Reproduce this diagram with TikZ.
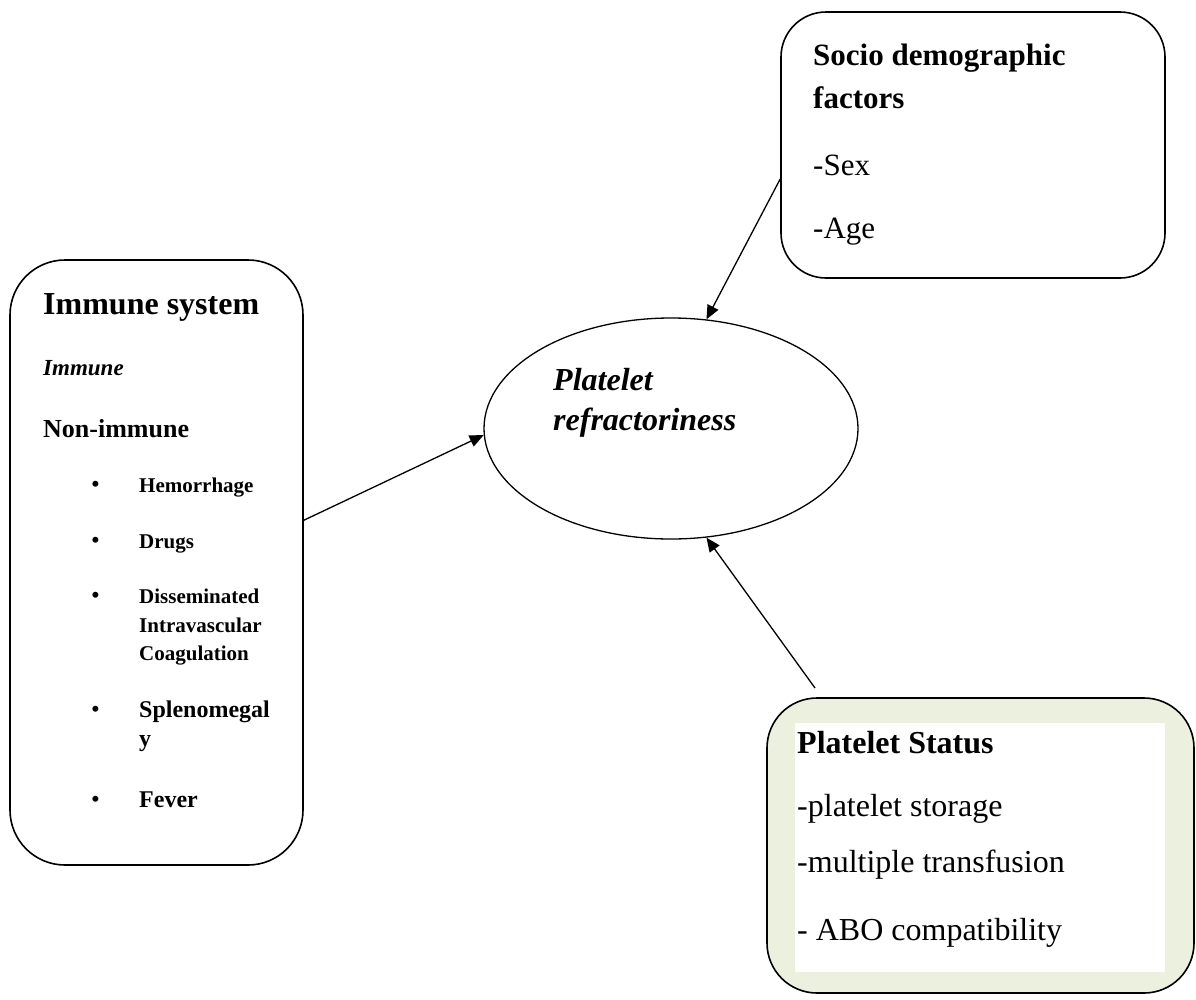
\documentclass[tikz,border=0pt]{standalone}
\usepackage{fontspec}
\setmainfont{Liberation Serif}
\usepackage{tikz}
\usetikzlibrary{arrows.meta, shapes.geometric}

\definecolor{statusgreen}{RGB}{235,241,222}

\tikzset{
    box/.style={draw, line width=1.6pt, inner sep=0pt},
    txt/.style={anchor=base west, inner sep=0pt},
    headfont/.style={font=\fontsize{32}{38}\selectfont\bfseries},
    itemfont/.style={font=\fontsize{21}{26}\selectfont\bfseries},
    bigitemfont/.style={font=\fontsize{24}{29}\selectfont\bfseries},
    plainfont/.style={font=\fontsize{31}{37}\selectfont},
    bul/.style={txt, font=\fontsize{25}{30}\selectfont},
    link/.style={-{Triangle[length=14pt, width=12pt]}, line width=1.3pt}
}

\begin{document}
\begin{tikzpicture}[x=1pt, y=-1pt]
    \useasboundingbox (0,0) rectangle (1196,999);

    % Boxes and ellipse
    \node[box, rounded corners=55pt, minimum width=293pt, minimum height=605pt] (immune) at (156.5,562.5) {};
    \node[box, rounded corners=45pt, minimum width=384pt, minimum height=266pt] (socio) at (973,145) {};
    \node[box, rounded corners=50pt, fill=statusgreen, minimum width=427pt, minimum height=295pt] (status) at (980.5,845.5) {};
    \fill[white] (795,723) rectangle (1165,972);
    \node[draw, ellipse, line width=1.3pt, inner sep=0pt, minimum width=374pt, minimum height=221pt] (refr) at (671,428.5) {};

    % Immune system box
    \node[txt, headfont] (imhead) at (43,314) {Immune system};
    \node[txt, font=\fontsize{23}{28}\selectfont\bfseries\itshape] (imsub) at (43,375) {Immune};
    \node[txt, font=\fontsize{26}{31}\selectfont\bfseries] (nonim) at (43,437) {Non-immune};
    \foreach \yb [count=\i] in {492,548,603,717,807}
        \node[bul] (b\i) at (91,\yb) {•};
    \node[txt, itemfont] (hem) at (139,492) {Hemorrhage};
    \node[txt, itemfont] (drugs) at (139,548) {Drugs};
    \node[txt, itemfont] (dis1) at (139,603) {Disseminated};
    \node[txt, itemfont] (dis2) at (139,632) {Intravascular};
    \node[txt, itemfont] (dis3) at (139,660) {Coagulation};
    \node[txt, bigitemfont] (spl1) at (139,717) {Splenomegal};
    \node[txt, bigitemfont] (spl2) at (139,746) {y};
    \node[txt, bigitemfont] (fever) at (139,807) {Fever};

    % Socio demographic box
    \node[txt, font=\fontsize{31}{37}\selectfont\bfseries] (sohead1) at (813,65) {Socio demographic};
    \node[txt, font=\fontsize{31}{37}\selectfont\bfseries] (sohead2) at (813,108) {factors};
    \node[txt, plainfont] (sex) at (813,175) {-Sex};
    \node[txt, plainfont] (age) at (813,238) {-Age};

    % Platelet status box
    \node[txt, headfont] (sthead) at (797,753) {Platelet Status};
    \node[txt, font=\fontsize{32}{38}\selectfont] (storage) at (797,816) {-platelet storage};
    \node[txt, font=\fontsize{32}{38}\selectfont] (multi) at (797,872) {-multiple transfusion};
    \node[txt, font=\fontsize{32}{38}\selectfont] (abo) at (797,940) {- ABO compatibility};

    % Ellipse text
    \node[txt, font=\fontsize{32}{38}\selectfont\bfseries\itshape] (pl1) at (553,390) {Platelet};
    \node[txt, font=\fontsize{32}{38}\selectfont\bfseries\itshape] (pl2) at (553,430) {refractoriness};

    % Arrows
    \coordinate (sttail) at (815,688);
    \draw[link] (immune.16.5) -- (refr.182.6);
    \draw[link] (socio.190) -- (refr.72.9);
    \draw[link] (sttail) -- (refr.-72);
\end{tikzpicture}
\end{document}
